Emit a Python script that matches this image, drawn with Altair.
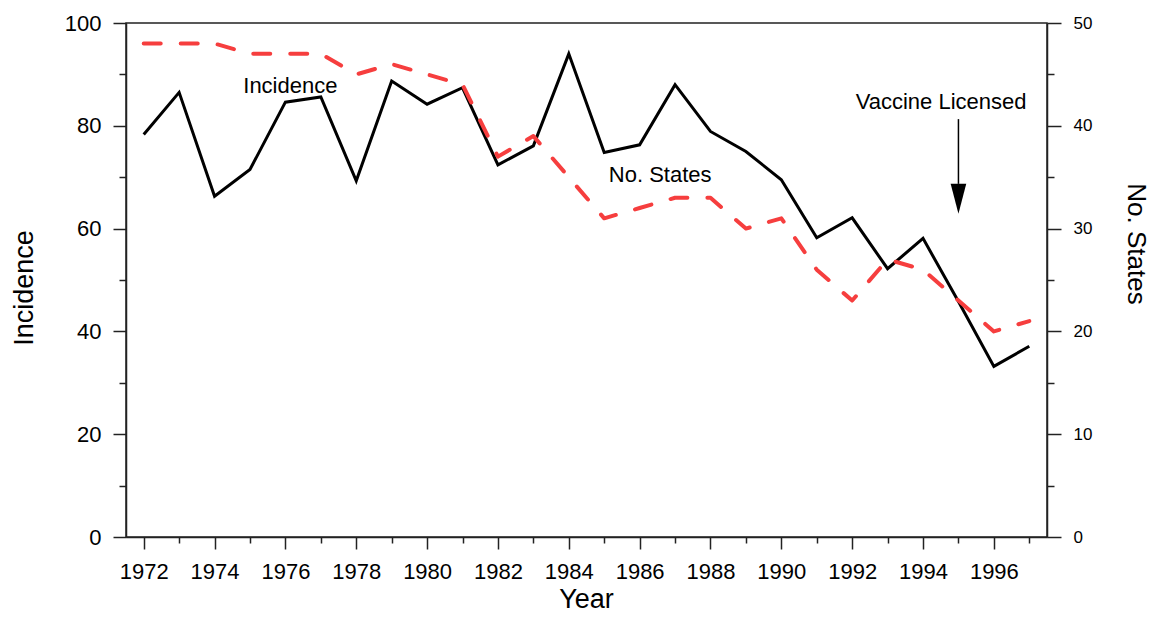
import altair as alt
import pandas as pd

years = list(range(1972, 1998))
incidence = [78.3, 86.5, 66.3, 71.5, 84.6, 85.6, 69.3, 88.7, 84.2, 87.4,
             72.4, 76.1, 94.0, 74.8, 76.3, 88.0, 78.9, 75.0, 69.5, 58.2,
             62.1, 52.2, 58.1, 45.8, 33.2, 37.1]
states = [48, 48, 48, 47, 47, 47, 45, 46, 45, 44,
          37, 39, 35, 31, 32, 33, 33, 30, 31, 26,
          23, 27, 26, 23, 20, 21]

left_ticks = list(range(0, 101, 10))
right_ticks = list(range(0, 51, 5))

labels = ["Incidence", "No. States", "Vaccine Licensed"]
label_x = [1976.14, 1986.58, 1994.51]
label_y = [86.3, 69.1, 83.2]

arrow_x = [1995]
arrow_top = [81.3]
arrow_bottom = [68.7]
arrow_head = [65.8]

FONT = "Liberation Sans"
DARK = "#222222"
RED = "#f63e3e"

df = pd.DataFrame({"Year": years, "Incidence": incidence, "States": states})
ann = pd.DataFrame({"label": labels, "Year": label_x, "Incidence": label_y})
arr = pd.DataFrame({"Year": arrow_x, "Incidence": arrow_top, "y2": arrow_bottom, "yh": arrow_head})

xscale = alt.Scale(domain=[1971.5, 1997.5], nice=False, zero=False)
yl = alt.Scale(domain=[0, 100], nice=False, zero=True)
yr = alt.Scale(domain=[0, 50], nice=False, zero=True)

xaxis = alt.Axis(
    values=years, format="d",
    tickSize={"condition": {"test": "datum.value % 2 === 0", "value": 12}, "value": 6},
    labelExpr="datum.value % 2 === 0 ? datum.label : ''",
    labelFontSize=22, labelPadding=12, labelOverlap=False, labelFlush=False,
    grid=False, title="Year", titleFontSize=27, titleFontWeight="normal",
    titleX=460, titleY=70, titleBaseline="alphabetic", titleAlign="center",
)
laxis = alt.Axis(
    values=left_ticks, orient="left",
    tickSize={"condition": {"test": "datum.value % 20 === 0", "value": 13}, "value": 7},
    labelExpr="datum.value % 20 === 0 ? datum.label : ''",
    labelFontSize=22, labelPadding=12, labelOverlap=False, labelFlush=False,
    grid=False, title="Incidence", titleFontSize=27, titleFontWeight="normal",
    titleAngle=-90, titleX=-94, titleY=264.5, titleBaseline="alphabetic", titleAlign="center",
)
raxis = alt.Axis(
    values=right_ticks, orient="right",
    tickSize={"condition": {"test": "datum.value % 10 === 0", "value": 14}, "value": 7},
    labelExpr="datum.value % 10 === 0 ? datum.label : ''",
    labelFontSize=17, labelPadding=12, labelOverlap=False, labelFlush=False,
    grid=False, title="No. States", titleFontSize=26, titleFontWeight="normal",
    titleAngle=90, titleX=80, titleY=220.5, titleBaseline="alphabetic", titleAlign="center",
)

X = alt.X("Year:Q", scale=xscale, axis=xaxis)
YL = alt.Y("Incidence:Q", scale=yl, axis=laxis)

inc_line = alt.Chart(df).mark_line(color="black", strokeWidth=3, strokeJoin="miter").encode(
    x=X, y=YL,
)

texts = alt.Chart(ann).mark_text(font=FONT, fontSize=22, baseline="alphabetic",
                                 align="center", color="black").encode(
    x=X, y=YL, text="label:N",
)

shaft = alt.Chart(arr).mark_rule(color="black", strokeWidth=1.5).encode(
    x=X, y=YL, y2="y2:Q",
)

head = alt.Chart(arr).mark_point(shape="M-0.52,-1L0.52,-1L0,1Z", size=900, filled=True,
                                 color="black", opacity=1, strokeWidth=0).encode(
    x=X, y=alt.Y("yh:Q", scale=yl, axis=laxis),
)

left = alt.layer(inc_line, texts, shaft, head)

st_line = alt.Chart(df).mark_line(color=RED, strokeWidth=4, strokeDash=[17, 20],
                                  strokeCap="round", strokeJoin="round").encode(
    x=X,
    y=alt.Y("States:Q", scale=yr, axis=raxis),
)

chart = alt.layer(left, st_line).resolve_scale(y="independent").properties(
    width=921, height=514,
    autosize=alt.AutoSizeParams(type="none"),
    padding={"left": 118, "top": 15, "right": 104, "bottom": 75},
).configure_view(
    stroke=DARK, strokeWidth=1.5
).configure_axis(
    domainColor=DARK, domainWidth=1.5, tickColor=DARK, tickWidth=1.5,
    labelColor="black", titleColor="black", labelFont=FONT, titleFont=FONT,
)

chart.save("out.html", embed_options={"renderer": "svg", "actions": False})
